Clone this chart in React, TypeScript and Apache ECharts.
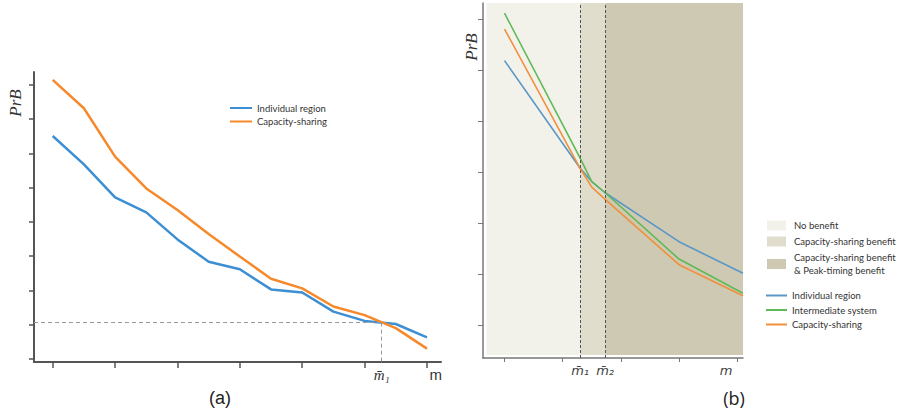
import React, { useEffect, useRef } from "react";
import * as echarts from "echarts";

// ---------- Panel (a) data ----------
const leftX = [0, 1, 2, 3, 4, 5, 6, 7, 8, 9, 10, 11, 12];
const leftIndividual = [6.51, 5.68, 4.72, 4.28, 3.49, 2.84, 2.62, 2.03, 1.94, 1.38, 1.11, 1.02, 0.63];
const leftCapacity = [8.15, 7.32, 5.91, 4.98, 4.35, 3.65, 2.99, 2.34, 2.06, 1.53, 1.28, 0.9, 0.3];
const leftXTicks = [0, 2, 4, 6, 8, 10, 12];
const leftYTicks = [0, 1, 2, 3, 4, 5, 6, 7, 8];
const leftM1 = 10.55;
const leftM1Value = 1.06;
const leftMLabelPos = 12.28;

// ---------- Panel (b) data ----------
const rightX = [0, 1.3, 1.5, 1.73, 3.0, 4.1];
const rightIndividual = [5.18, 3.07, 2.81, 2.59, 1.63, 1.01];
const rightIntermediate = [6.11, 3.27, 2.81, 2.59, 1.29, 0.62];
const rightCapacity = [5.8, 3.07, 2.7, 2.46, 1.18, 0.57];
const rightXTicks = [0, 1, 2, 3, 4];
const rightYTicks = [0, 1, 2, 3, 4, 5, 6];
const rightM1 = 1.3;
const rightM2 = 1.73;
const rightMLabelPos = 3.81;

const bandNames = [
  "No benefit",
  "Capacity-sharing benefit",
  "Capacity-sharing benefit\n& Peak-timing benefit",
];
const lineNames = ["Individual region", "Intermediate system", "Capacity-sharing"];

const pairs = (xs: number[], ys: number[]) => xs.map((x, i) => [x, ys[i]]);

const L_BLUE = "#3d8fd3";
const L_ORANGE = "#f5892b";
const R_BLUE = "#5b97c6";
const R_GREEN = "#5fb956";
const R_ORANGE = "#f0903c";
const BAND = ["#f2f1ea", "#e0ddcc", "#cec9b2"];

export default function App() {
  const ref = useRef<HTMLDivElement>(null);
  useEffect(() => {
    if (!ref.current) return;
    const chart = echarts.init(ref.current, undefined, { renderer: "svg" });
    const RX_MIN = -0.37;
    const RX_MAX = 4.1;
    const RY_MIN = -0.65;
    const RY_MAX = 6.31;
    const bandEdges = [-0.31, rightM1, rightM2, RX_MAX];
    const option: any = {
      animation: false,
      backgroundColor: "#ffffff",
      grid: [
        { left: 34, top: 72, width: 407, height: 290, containLabel: false },
        { left: 483, top: 3, width: 260, height: 355, containLabel: false },
      ],
      xAxis: [
        {
          type: "value",
          gridIndex: 0,
          min: -0.6,
          max: 12.45,
          splitLine: { show: false },
          axisLine: { onZero: false, lineStyle: { color: "#555", width: 2 } },
          axisTick: { customValues: leftXTicks, length: 6, lineStyle: { color: "#555", width: 1.5 } },
          axisLabel: {
            customValues: [leftM1, leftMLabelPos],
            margin: 5,
            formatter: (v: number) => (Math.abs(v - leftM1) < 1e-6 ? "{a|m̄₁}" : "{b|m}"),
            rich: {
              a: { fontFamily: "Liberation Serif", fontStyle: "italic", fontSize: 15, color: "#333" },
              b: { fontFamily: "Liberation Sans", fontSize: 15, color: "#333" },
            },
          },
        },
        {
          type: "value",
          gridIndex: 1,
          min: RX_MIN,
          max: RX_MAX,
          splitLine: { show: false },
          axisLine: { onZero: false, lineStyle: { color: "#777", width: 1.5 } },
          axisTick: { customValues: rightXTicks, length: 4, lineStyle: { color: "#777" } },
          axisLabel: {
            customValues: [rightM1, rightM2, rightMLabelPos],
            margin: 6,
            formatter: (v: number) =>
              Math.abs(v - rightM1) < 1e-6 ? "m̄₁" : Math.abs(v - rightM2) < 1e-6 ? "m̄₂" : "m",
            fontFamily: "DejaVu Sans",
            fontStyle: "italic",
            fontSize: 13,
            color: "#444",
          },
        },
      ],
      yAxis: [
        {
          type: "value",
          gridIndex: 0,
          min: -0.09,
          max: 8.38,
          splitLine: { show: false },
          axisLine: { show: true, onZero: false, lineStyle: { color: "#555", width: 2 } },
          axisTick: { show: true, customValues: leftYTicks, length: 5, lineStyle: { color: "#555", width: 1.5 } },
          axisLabel: { show: false },
        },
        {
          type: "value",
          gridIndex: 1,
          min: RY_MIN,
          max: RY_MAX,
          splitLine: { show: false },
          axisLine: { show: true, onZero: false, lineStyle: { color: "#777", width: 1.5 } },
          axisTick: { show: true, customValues: rightYTicks, length: 5, lineStyle: { color: "#777" } },
          axisLabel: { show: false },
        },
      ],
      legend: [
        {
          orient: "vertical",
          left: 230,
          top: 103,
          padding: 0,
          itemWidth: 22,
          itemHeight: 2,
          itemGap: 3.5,
          icon: "rect",
          textStyle: { fontFamily: "Lato", fontSize: 9.5, color: "#333" },
          data: [
            { name: "Individual region", itemStyle: { color: L_BLUE } },
            { name: "Capacity-sharing", itemStyle: { color: L_ORANGE } },
          ],
        },
        {
          orient: "vertical",
          left: 767,
          top: 219,
          padding: 0,
          itemWidth: 19,
          itemHeight: 10,
          itemGap: 3,
          icon: "rect",
          textStyle: { fontFamily: "Lato", fontSize: 9.5, color: "#333", lineHeight: 13, padding: [0, 0, 0, 3] },
          data: bandNames.map((n, i) => ({ name: n, itemStyle: { color: BAND[i] } })),
        },
        {
          orient: "vertical",
          left: 766,
          top: 290.5,
          padding: 0,
          itemWidth: 21,
          itemHeight: 2,
          itemGap: 4.5,
          icon: "rect",
          textStyle: { fontFamily: "Lato", fontSize: 9.5, color: "#333" },
          data: [
            { name: lineNames[0], itemStyle: { color: R_BLUE } },
            { name: lineNames[1], itemStyle: { color: R_GREEN } },
            { name: lineNames[2], itemStyle: { color: R_ORANGE } },
          ],
        },
      ],
      series: [
        // Panel (a)
        {
          type: "line",
          name: "Individual region",
          xAxisIndex: 0,
          yAxisIndex: 0,
          data: pairs(leftX, leftIndividual),
          symbol: "none",
          lineStyle: { color: L_BLUE, width: 2.5 },
          itemStyle: { color: L_BLUE },
          z: 3,
          markLine: {
            silent: true,
            symbol: "none",
            label: { show: false },
            lineStyle: { color: "#999", type: [4, 3], width: 1 },
            data: [
              [{ coord: [-0.6, leftM1Value] }, { coord: [leftM1, leftM1Value] }],
              [{ coord: [leftM1, leftM1Value] }, { coord: [leftM1, -0.09] }],
            ],
          },
        },
        {
          type: "line",
          name: "Capacity-sharing",
          xAxisIndex: 0,
          yAxisIndex: 0,
          data: pairs(leftX, leftCapacity),
          symbol: "none",
          lineStyle: { color: L_ORANGE, width: 2.5 },
          itemStyle: { color: L_ORANGE },
          z: 3,
        },
        // Panel (b) bands
        ...bandNames.map((n, i) => ({
          type: "line",
          name: n,
          xAxisIndex: 1,
          yAxisIndex: 1,
          data: [],
          symbol: "none",
          itemStyle: { color: BAND[i] },
          lineStyle: { color: BAND[i] },
          z: 1,
          markArea: {
            silent: true,
            itemStyle: { color: BAND[i] },
            data: [[{ xAxis: bandEdges[i], yAxis: -0.59 }, { xAxis: bandEdges[i + 1], yAxis: RY_MAX }]],
          },
        })),
        // Panel (b) lines
        {
          type: "line",
          name: lineNames[0],
          xAxisIndex: 1,
          yAxisIndex: 1,
          data: pairs(rightX, rightIndividual),
          symbol: "none",
          lineStyle: { color: R_BLUE, width: 1.6 },
          itemStyle: { color: R_BLUE },
          z: 4,
          markLine: {
            silent: true,
            symbol: "none",
            label: { show: false },
            lineStyle: { color: "#555", type: [3, 2], width: 1 },
            data: [{ xAxis: rightM1 }, { xAxis: rightM2 }],
          },
        },
        {
          type: "line",
          name: lineNames[1],
          xAxisIndex: 1,
          yAxisIndex: 1,
          data: pairs(rightX, rightIntermediate),
          symbol: "none",
          lineStyle: { color: R_GREEN, width: 1.6 },
          itemStyle: { color: R_GREEN },
          z: 4,
        },
        {
          type: "line",
          name: lineNames[2],
          xAxisIndex: 1,
          yAxisIndex: 1,
          data: pairs(rightX, rightCapacity),
          symbol: "none",
          lineStyle: { color: R_ORANGE, width: 1.6 },
          itemStyle: { color: R_ORANGE },
          z: 4,
        },
      ],
      graphic: [
        {
          type: "text",
          x: 15,
          y: 103,
          rotation: Math.PI / 2,
          style: {
            text: "PrB",
            font: "italic 17px 'Liberation Serif'",
            fill: "#333",
            align: "center",
            verticalAlign: "middle",
          },
        },
        {
          type: "text",
          x: 471,
          y: 47,
          rotation: Math.PI / 2,
          style: {
            text: "PrB",
            font: "italic 17px 'Liberation Serif'",
            fill: "#333",
            align: "center",
            verticalAlign: "middle",
          },
        },
        {
          type: "text",
          x: 220,
          y: 398,
          style: {
            text: "(a)",
            font: "18px 'Liberation Sans'",
            fill: "#222",
            align: "center",
            verticalAlign: "middle",
          },
        },
        {
          type: "text",
          x: 734,
          y: 398,
          style: {
            text: "(b)",
            font: "18px 'Open Sans'",
            fill: "#222",
            align: "center",
            verticalAlign: "middle",
          },
        },
      ],
    };
    chart.setOption(option);
    return () => chart.dispose();
  }, []);
  return (
    <div
      ref={ref}
      style={{ position: "fixed", left: 0, top: 0, width: 904, height: 412, background: "#fff" }}
    />
  );
}
